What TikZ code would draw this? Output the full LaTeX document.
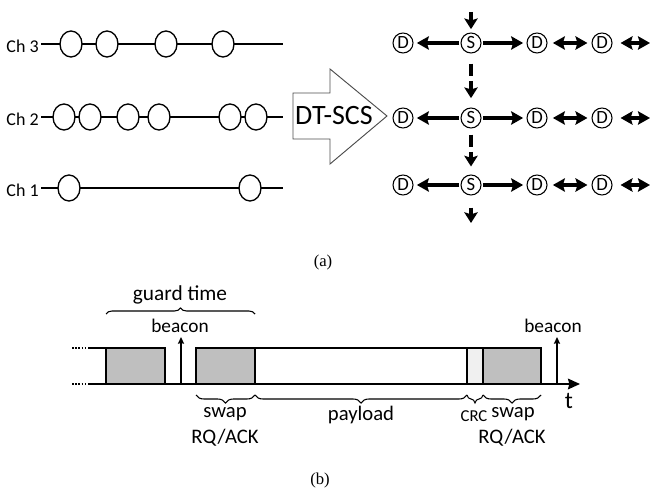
\documentclass[tikz,border=0pt]{standalone}
\usepackage{fontspec}
\setmainfont{Carlito}
\newfontfamily\capfont{Liberation Serif}
\usetikzlibrary{arrows.meta,shapes.geometric,decorations.pathreplacing}
\definecolor{boxgray}{RGB}{191,191,191}
\definecolor{crcgray}{RGB}{240,240,240}
\tikzset{
  chlabel/.style={font=\fontsize{13.5}{13.5}\selectfont, anchor=east, inner sep=0pt},
  chline/.style={line width=2pt},
  slot/.style={ellipse, draw, fill=white, line width=1pt, minimum width=16.5pt, minimum height=19.5pt, inner sep=0pt},
  ds/.style={circle, draw, line width=0.8pt, minimum size=15pt, inner sep=0pt, font=\fontsize{14}{14}\selectfont},
  link/.style={line width=2.3pt, -{Stealth[length=9pt,width=10pt,inset=1.5pt]}, shorten >=2.5pt, shorten <=1pt},
  dlink/.style={line width=2.3pt, {Stealth[length=9pt,width=10pt,inset=1.5pt]}-{Stealth[length=9pt,width=10pt,inset=1.5pt]}, shorten >=3pt, shorten <=4pt},
  vlink/.style={line width=2.3pt, -{Stealth[length=8pt,width=10pt,inset=1.5pt]}},
  bigarrow/.style={draw=black!70, line width=0.7pt},
  slotbox/.style={draw, line width=1.5pt},
  beaconarrow/.style={line width=1.3pt, -{Stealth[length=5pt,width=4.5pt,inset=0.5pt]}},
  dotline/.style={line width=1.5pt, dash pattern=on 1.2pt off 1.2pt},
  bracetop/.style={decorate, decoration={brace, amplitude=4.5pt}, line width=0.8pt},
  bracebot/.style={decorate, decoration={brace, amplitude=6pt, mirror}, line width=0.8pt},
  lbl/.style={inner sep=0pt, anchor=base},
}
\begin{document}
\begin{tikzpicture}[x=0.75pt,y=-0.75pt]
\useasboundingbox (0,0) rectangle (656,488);

% ---------------- (a) left: channels ----------------
\node[chlabel] (ch3) at (39,46) {Ch 3};
\node[chlabel] (ch2) at (39,119) {Ch 2};
\node[chlabel] (ch1) at (39,190) {Ch 1};
\coordinate (ch3e) at (283,44);
\coordinate (ch2e) at (283,117);
\coordinate (ch1e) at (283,188);
\draw[chline] (ch3.east |- ch3e) ++(2,0) -- (ch3e);
\draw[chline] (ch2.east |- ch2e) ++(2,0) -- (ch2e);
\draw[chline] (ch1.east |- ch1e) ++(2,0) -- (ch1e);

\node[slot] (c31) at (71,44) {};
\node[slot] (c32) at (107,44) {};
\node[slot] (c33) at (166,44) {};
\node[slot] (c34) at (223,44) {};

\node[slot] (c21) at (64,117) {};
\node[slot] (c22) at (90,117) {};
\node[slot] (c23) at (128,117) {};
\node[slot] (c24) at (159,117) {};
\node[slot] (c25) at (230,117) {};
\node[slot] (c26) at (256,117) {};

\node[slot] (c11) at (69,188) {};
\node[slot] (c12) at (250,188) {};

% ---------------- big arrow ----------------
\draw[bigarrow] (293,93) -- (330,93) -- (330,69) -- (387,116) -- (330,164) -- (330,139) -- (293,139) -- cycle;
\node[font=\fontsize{21}{21}\selectfont, inner sep=0pt] (dt) at (334,116) {DT-SCS};

% ---------------- (a) right: D/S rows ----------------
\foreach \r/\y in {1/43,2/118,3/185}{
  \node[ds] (d\r a) at (403,\y) {D};
  \node[ds] (s\r)   at (471,\y) {S};
  \node[ds] (d\r b) at (537,\y) {D};
  \node[ds] (d\r c) at (602,\y) {D};
  \coordinate (e\r) at (650,\y);
  \draw[link] (s\r) -- (d\r a);
  \draw[link] (s\r) -- (d\r b);
  \draw[dlink] (d\r b) -- (d\r c);
  \draw[dlink, shorten <=6pt, shorten >=0pt] (d\r c) -- (e\r);
}
\coordinate (vtop) at (471,12);
\coordinate (vbot) at (471,223);
\draw[vlink, shorten >=2.5pt] (vtop) -- (s1);
\draw[vlink, dash pattern=on 9pt off 4pt on 40pt, shorten <=7.5pt, shorten >=7pt] (s1) -- (s2);
\draw[vlink, dash pattern=on 9pt off 4pt on 40pt, shorten <=4.5pt, shorten >=6pt] (s2) -- (s3);
\draw[vlink, shorten <=9pt] (s3) -- (vbot);

\node[font=\capfont\fontsize{12.5}{12.5}\selectfont] (capa) at (323,262) {(a)};

% ---------------- (b) timeline ----------------
\draw[dotline] (72,348) -- (88,348);
\draw[dotline] (72,384) -- (88,384);
\draw[line width=1.5pt] (88,348) -- (106,348);
\draw[slotbox, fill=boxgray] (106,348) rectangle (165,384);
\draw[slotbox, fill=boxgray] (196,348) rectangle (255,384);
\draw[slotbox] (255,348) rectangle (467,384);
\draw[slotbox, fill=crcgray] (467,348) rectangle (483,384);
\draw[slotbox, fill=boxgray] (483,348) rectangle (541,384);
\coordinate (ax0) at (88,384);
\coordinate (ax1) at (580,384);
\draw[line width=1.5pt, -{Stealth[length=9pt,width=8pt,inset=1pt]}] (ax0) -- (ax1);
\node[lbl, font=\fontsize{18}{18}\selectfont] (t) at (569,408) {t};

% beacons
\coordinate (b1a) at (181,384);
\coordinate (b1b) at (181,337);
\coordinate (b2a) at (557,384);
\coordinate (b2b) at (557,337);
\draw[beaconarrow] (b1a) -- (b1b);
\draw[beaconarrow] (b2a) -- (b2b);
\node[lbl, font=\fontsize{14.5}{14.5}\selectfont] (bc1) at (180,332) {beacon};
\node[lbl, font=\fontsize{14.5}{14.5}\selectfont] (bc2) at (553,332) {beacon};

% guard time
\draw[bracetop] (106,314) -- (255,314);
\node[lbl, font=\fontsize{16}{16}\selectfont] (guard) at (180,300) {guard time};

% lower braces
\draw[bracebot] (196,395) -- (255,395);
\draw[bracebot] (255,395) -- (467,395);
\draw[bracebot] (467,395) -- (483,395);
\draw[bracebot] (483,395) -- (541,395);

\node[lbl, font=\fontsize{15.5}{15.5}\selectfont] (sw1) at (225,417) {swap};
\node[lbl, font=\fontsize{15.5}{15.5}\selectfont] (rq1) at (225,443) {RQ/ACK};
\node[lbl, font=\fontsize{15.5}{15.5}\selectfont] (pl) at (361,420) {payload};
\node[lbl, font=\fontsize{12.5}{12.5}\selectfont] (crc) at (474,421) {CRC};
\node[lbl, font=\fontsize{15.5}{15.5}\selectfont] (sw2) at (513,417) {swap};
\node[lbl, font=\fontsize{15.5}{15.5}\selectfont] (rq2) at (512,443) {RQ/ACK};

\node[font=\capfont\fontsize{12.5}{12.5}\selectfont] (capb) at (320,480) {(b)};
\end{tikzpicture}
\end{document}
